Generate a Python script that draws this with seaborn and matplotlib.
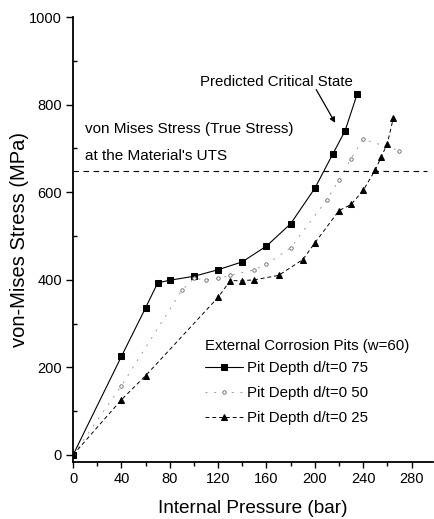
import matplotlib
matplotlib.use("Agg")
import matplotlib.pyplot as plt
import seaborn as sns
import pandas as pd
from matplotlib.ticker import MultipleLocator

# ---- data ----
p75 = [0, 40, 60, 70, 80, 100, 120, 140, 160, 180, 200, 215, 225, 235]
s75 = [0, 225, 336, 393, 399, 408, 423, 441, 477, 528, 609, 688, 740, 824]

p50 = [0, 40, 90, 100, 110, 120, 130, 150, 160, 180, 210, 220, 230, 240, 270]
s50 = [0, 158, 376, 403, 400, 403, 410, 423, 435, 473, 583, 628, 677, 721, 695]

p25 = [0, 40, 60, 120, 130, 140, 150, 170, 190, 200, 220, 230, 240, 250, 255, 260, 265]
s25 = [0, 126, 181, 360, 398, 398, 400, 410, 446, 484, 558, 572, 604, 651, 681, 711, 770]

uts_stress = 648
labels = ["Pit Depth d/t=0 75", "Pit Depth d/t=0 50", "Pit Depth d/t=0 25"]
legend_title = "External Corrosion Pits (w=60)"
x_ticks = [0, 40, 80, 120, 160, 200, 240, 280]
y_ticks = [0, 200, 400, 600, 800, 1000]

sns.set_theme(style="ticks", rc={"text.color": "black", "axes.labelcolor": "black",
                                 "xtick.color": "black", "ytick.color": "black",
                                 "axes.edgecolor": "black"})
plt.rcParams["font.family"] = ["Liberation Sans", "DejaVu Sans"]

fig = plt.figure(figsize=(4.35, 5.19), dpi=100)
ax = fig.add_axes([0.168, 0.110, 0.828, 0.857])

d75 = pd.DataFrame({"p": p75, "s": s75})
d50 = pd.DataFrame({"p": p50, "s": s50})
d25 = pd.DataFrame({"p": p25, "s": s25})

sns.lineplot(data=d75, x="p", y="s", ax=ax, sort=False, estimator=None,
             color="black", lw=0.8, marker="s", markersize=4.5,
             markeredgecolor="black", label=labels[0])
sns.lineplot(data=d50, x="p", y="s", ax=ax, sort=False, estimator=None,
             color="#9a9a9a", lw=0.7, linestyle=(0, (2, 7)), marker="o",
             markersize=2.5, markerfacecolor="white", markeredgecolor="#666666",
             markeredgewidth=0.6, label=labels[1])
sns.lineplot(data=d25, x="p", y="s", ax=ax, sort=False, estimator=None,
             color="black", lw=0.7, linestyle=(0, (4, 3)), marker="^",
             markersize=4.5, markeredgecolor="black", label=labels[2])

ax.plot([0, 293], [uts_stress, uts_stress], color="black", lw=0.8,
        linestyle=(0, (5, 4)))

ax.set_xlim(0, 298)
ax.set_ylim(-16, 1000)
ax.set_xticks(x_ticks)
ax.set_yticks(y_ticks)
ax.xaxis.set_minor_locator(MultipleLocator(20))
ax.yaxis.set_minor_locator(MultipleLocator(100))
ax.tick_params(axis="x", which="major", direction="out", length=4, width=1, labelsize=10.5, pad=3)
ax.tick_params(axis="x", which="minor", direction="out", length=3, width=1)
ax.tick_params(axis="y", which="major", direction="out", length=5, width=1, labelsize=10.5, pad=3)
ax.tick_params(axis="y", which="minor", direction="in", length=3, width=1)

for side in ["top", "right"]:
    ax.spines[side].set_visible(False)
for side in ["left", "bottom"]:
    ax.spines[side].set_linewidth(1.3)
    ax.spines[side].set_color("black")

ax.set_xlabel("Internal Pressure (bar)", fontsize=13.7, labelpad=10)
ax.set_ylabel("von-Mises Stress (MPa)", fontsize=14.5, labelpad=0)

ax.text(10, 745, "von Mises Stress (True Stress)", fontsize=11, va="center", ha="left")
ax.text(10, 683, "at the Material's UTS", fontsize=11, va="center", ha="left")
ax.text(105, 852, "Predicted Critical State", fontsize=10.8, va="center", ha="left")
ax.annotate("", xy=(218, 753), xytext=(200, 840),
            arrowprops=dict(arrowstyle="-|>", color="black", lw=0.9,
                            mutation_scale=8))

leg = ax.legend(title=legend_title, loc="upper left", bbox_to_anchor=(0.367, 0.277),
                frameon=False, fontsize=10.8, title_fontsize=10.8,
                handlelength=2.5, handletextpad=0.3, labelspacing=0.74,
                borderaxespad=0, borderpad=0)
leg._legend_box.align = "left"
leg._legend_box.sep = 6

fig.savefig("out.png", dpi=100)
